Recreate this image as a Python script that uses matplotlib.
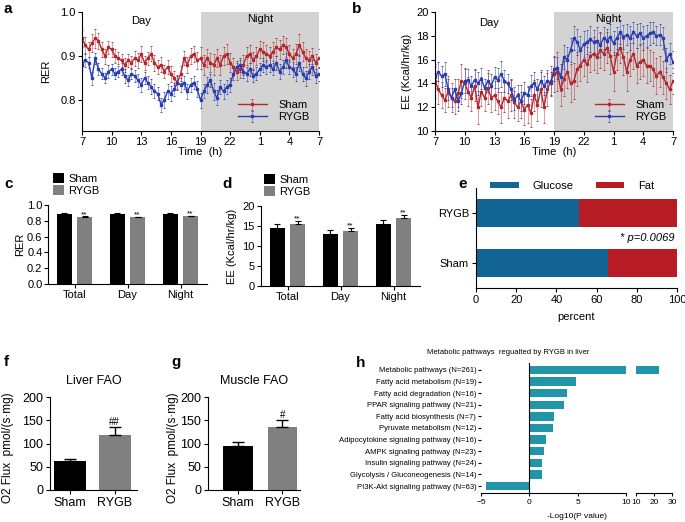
import numpy as np
import matplotlib
matplotlib.use("Agg")
import matplotlib.pyplot as plt

plt.rcParams['font.family'] = ['Liberation Sans', 'DejaVu Sans']
plt.rcParams['axes.linewidth'] = 0.8
plt.rcParams['xtick.major.width'] = 0.8
plt.rcParams['ytick.major.width'] = 0.8
plt.rcParams['xtick.major.size'] = 3
plt.rcParams['ytick.major.size'] = 3

#-------- data --------------
# time course, one value every 20 min from 7:00 to 7:00 next day
rer_sham = [
    0.940, 0.925, 0.915,
    0.930, 0.940, 0.935,
    0.915, 0.900, 0.920,
    0.915, 0.900, 0.895,
    0.890, 0.880, 0.890,
    0.885, 0.895, 0.890,
    0.905, 0.885, 0.895,
    0.905, 0.885, 0.875,
    0.880, 0.865, 0.875,
    0.860, 0.850, 0.840,
    0.860, 0.895, 0.880,
    0.900, 0.905, 0.890,
    0.895, 0.880, 0.895,
    0.885, 0.880, 0.895,
    0.880, 0.900, 0.905,
    0.885, 0.875, 0.865,
    0.870, 0.880, 0.900,
    0.905, 0.890, 0.900,
    0.915, 0.910, 0.905,
    0.900, 0.910, 0.920,
    0.915, 0.925, 0.920,
    0.905, 0.895, 0.905,
    0.925, 0.910, 0.895,
    0.890, 0.900, 0.885,
    0.895]
rer_sham_err = [
    0.020, 0.018, 0.016,
    0.020, 0.022, 0.018,
    0.016, 0.017, 0.015,
    0.016, 0.015, 0.014,
    0.015, 0.016, 0.014,
    0.015, 0.017, 0.016,
    0.018, 0.016, 0.015,
    0.017, 0.018, 0.016,
    0.017, 0.015, 0.016,
    0.018, 0.016, 0.015,
    0.017, 0.016, 0.018,
    0.019, 0.018, 0.020,
    0.025, 0.022, 0.020,
    0.021, 0.024, 0.020,
    0.022, 0.020, 0.023,
    0.021, 0.020, 0.019,
    0.020, 0.022, 0.021,
    0.020, 0.019, 0.021,
    0.020, 0.022, 0.019,
    0.020, 0.021, 0.020,
    0.022, 0.020, 0.021,
    0.019, 0.020, 0.022,
    0.024, 0.021, 0.020,
    0.021, 0.019, 0.020,
    0.022]
rer_rygb = [
    0.880, 0.890, 0.885,
    0.850, 0.895, 0.870,
    0.860, 0.850, 0.865,
    0.870, 0.860, 0.865,
    0.870, 0.855, 0.845,
    0.860, 0.855, 0.845,
    0.835, 0.850, 0.840,
    0.830, 0.820, 0.815,
    0.790, 0.800, 0.820,
    0.815, 0.825, 0.840,
    0.835, 0.840, 0.820,
    0.835, 0.840, 0.825,
    0.800, 0.820, 0.835,
    0.845, 0.820, 0.805,
    0.830, 0.820, 0.830,
    0.835, 0.860, 0.875,
    0.880, 0.865, 0.860,
    0.870, 0.855, 0.860,
    0.870, 0.880, 0.875,
    0.880, 0.870, 0.885,
    0.865, 0.875, 0.890,
    0.875, 0.870, 0.860,
    0.885, 0.860, 0.850,
    0.865, 0.875, 0.855,
    0.860]
rer_rygb_err = [
    0.012, 0.014, 0.013,
    0.015, 0.013, 0.014,
    0.013, 0.012, 0.014,
    0.013, 0.012, 0.013,
    0.014, 0.015, 0.013,
    0.012, 0.014, 0.015,
    0.016, 0.014, 0.015,
    0.017, 0.016, 0.015,
    0.016, 0.018, 0.017,
    0.016, 0.015, 0.017,
    0.016, 0.015, 0.017,
    0.016, 0.015, 0.018,
    0.017, 0.016, 0.018,
    0.015, 0.019, 0.017,
    0.016, 0.017, 0.015,
    0.016, 0.015, 0.014,
    0.015, 0.014, 0.016,
    0.015, 0.014, 0.015,
    0.014, 0.015, 0.016,
    0.015, 0.014, 0.016,
    0.017, 0.015, 0.016,
    0.015, 0.017, 0.016,
    0.018, 0.016, 0.017,
    0.016, 0.017, 0.015,
    0.016]

ee_sham = [
    14.2, 13.5, 13.0,
    12.6, 13.3, 12.8,
    12.5, 13.2, 14.2,
    14.0, 13.3, 12.8,
    13.8, 12.0, 13.3,
    12.8, 13.6, 12.8,
    13.0, 12.5, 12.0,
    12.8, 12.5, 13.0,
    12.4, 12.0, 12.5,
    11.8, 12.2, 11.5,
    13.0, 12.2, 13.5,
    12.0, 13.5, 14.2,
    14.8, 15.0, 13.5,
    14.4, 15.0, 14.0,
    14.2, 15.2, 15.5,
    16.0, 15.6, 16.3,
    16.5, 16.2, 16.8,
    16.5, 17.0, 16.3,
    15.0, 16.5, 17.0,
    16.2, 15.0, 16.0,
    16.5, 15.5, 15.8,
    16.0, 15.5, 15.5,
    15.2, 14.6, 15.0,
    14.5, 14.0, 13.5,
    14.2]
ee_sham_err = [
    1.4, 1.2, 1.1,
    1.0, 1.3, 1.2,
    1.1, 1.2, 1.4,
    1.3, 1.2, 1.1,
    1.3, 1.4, 1.2,
    1.1, 1.3, 1.2,
    1.2, 1.1, 1.3,
    1.2, 1.4, 1.3,
    1.3, 1.2, 1.4,
    1.3, 1.5, 1.2,
    1.3, 1.4, 1.5,
    1.3, 1.4, 1.3,
    1.5, 1.6, 1.4,
    1.5, 1.4, 1.6,
    1.5, 1.4, 1.3,
    1.4, 1.5, 1.3,
    1.4, 1.3, 1.5,
    1.4, 1.3, 1.5,
    1.6, 1.4, 1.3,
    1.5, 1.6, 1.4,
    1.3, 1.5, 1.4,
    1.4, 1.5, 1.3,
    1.4, 1.5, 1.3,
    1.4, 1.3, 1.2,
    1.1]
ee_rygb = [
    14.5, 15.0, 14.6,
    14.8, 13.5, 12.8,
    13.5, 12.5, 13.2,
    14.2, 14.3, 13.8,
    14.3, 14.0, 14.4,
    13.6, 14.2, 13.8,
    14.5, 14.3, 14.8,
    14.2, 14.0, 13.5,
    12.6, 13.0, 12.5,
    13.2, 13.0, 13.8,
    14.0, 13.5, 14.2,
    13.8, 14.2, 14.0,
    15.2, 15.3, 14.5,
    16.2, 16.0, 16.8,
    17.8, 17.5, 16.8,
    17.3, 17.5, 17.7,
    17.5, 17.6, 17.2,
    17.8, 17.6, 17.9,
    17.4, 17.8, 18.3,
    17.9, 18.1, 17.8,
    18.3, 18.0, 18.2,
    17.8, 18.0, 18.2,
    18.3, 18.0, 18.1,
    17.8, 16.0, 16.5,
    15.8]
ee_rygb_err = [
    0.9, 0.8, 0.9,
    1.0, 0.9, 0.8,
    0.9, 0.8, 0.9,
    1.0, 0.9, 0.8,
    0.9, 1.0, 0.9,
    0.8, 0.9, 1.0,
    0.9, 1.0, 1.1,
    0.9, 0.8, 0.9,
    0.8, 0.9, 0.8,
    0.9, 0.8, 0.9,
    1.0, 0.9, 0.9,
    0.8, 0.9, 1.0,
    1.0, 0.9, 1.1,
    1.0, 1.1, 1.0,
    1.0, 1.1, 1.2,
    1.1, 1.0, 1.1,
    1.0, 1.1, 1.0,
    0.9, 1.0, 1.1,
    1.0, 0.9, 1.0,
    1.0, 0.9, 1.0,
    0.9, 1.0, 0.9,
    1.0, 0.9, 1.0,
    0.9, 0.8, 0.9,
    0.9, 1.0, 0.9,
    0.9]

time_ticks = [7, 10, 13, 16, 19, 22, 25, 28, 31]
time_labels = ['7', '10', '13', '16', '19', '22', '1', '4', '7']

periods = ['Total', 'Day', 'Night']
rer_bar_sham = [0.89, 0.89, 0.89]
rer_bar_sham_err = [0.008, 0.008, 0.008]
rer_bar_rygb = [0.85, 0.845, 0.855]
rer_bar_rygb_err = [0.008, 0.007, 0.008]
ee_bar_sham = [14.4, 13.0, 15.5]
ee_bar_sham_err = [1.0, 0.9, 1.0]
ee_bar_rygb = [15.5, 13.8, 17.1]
ee_bar_rygb_err = [0.7, 0.6, 0.7]

fuel_groups = ['Sham', 'RYGB']
glucose_pct = [65.5, 51.0]
fat_pct = [34.5, 49.0]

fao_groups = ['Sham', 'RYGB']
liver_fao = [63, 119]
liver_fao_err = [4, 16]
muscle_fao = [95, 136]
muscle_fao_err = [9, 14]

pathways = [
    'Metabolic pathways (N=261)',
    'Fatty acid metabolism (N=19)',
    'Fatty acid degradation (N=16)',
    'PPAR signaling pathway (N=21)',
    'Fatty acid biosynthesis (N=7)',
    'Pyruvate metabolism (N=12)',
    'Adipocytokine signaling pathway (N=16)',
    'AMPK signaling pathway (N=23)',
    'Insulin signaling pathway (N=24)',
    'Glycolysis / Gluconeogenesis (N=14)',
    'PI3K-Akt signaling pathway (N=63)',
]
log_p = [23.0, 4.8, 3.85, 3.55, 2.55, 2.4, 1.7, 1.5, 1.35, 1.3, -4.5]

#-------- layout helpers --------------
W, H = 685, 522
fig = plt.figure(figsize=(W / 100, H / 100), dpi=100)


def px_axes(x0, y0, x1, y1):
    return fig.add_axes([x0 / W, 1 - y1 / H, (x1 - x0) / W, (y1 - y0) / H])


def px_text(x, y, s, **kw):
    fig.text(x / W, 1 - y / H, s, **kw)


def clean(ax):
    ax.spines['top'].set_visible(False)
    ax.spines['right'].set_visible(False)


red = '#b3282d'
blue = '#2a3db0'
t = 7 + np.arange(len(rer_sham)) / 3

#-------- a: RER time course --------------
ax = px_axes(82, 12, 319, 131)
ax.axvspan(19, 31, color='#d3d3d3', lw=0, zorder=0)
ax.errorbar(t, rer_sham, yerr=rer_sham_err, color=red, ecolor=red, elinewidth=0.7,
            capsize=1, capthick=0.6, lw=1.0, marker='s', ms=1.5, label='Sham')
ax.errorbar(t, rer_rygb, yerr=rer_rygb_err, color=blue, ecolor=blue, elinewidth=0.7,
            capsize=1, capthick=0.6, lw=1.0, marker='s', ms=1.5, label='RYGB')
for c in ax.containers:
    for ln in c.lines[2]:
        ln.set_alpha(0.45)
ax.set_xlim(7, 31)
ax.set_ylim(0.73, 1.0)
ax.set_yticks([0.8, 0.9, 1.0])
ax.set_xticks(time_ticks)
ax.set_xticklabels(time_labels)
ax.tick_params(labelsize=8, pad=1.5)
ax.set_xlabel('Time  (h)', fontsize=8, labelpad=0)
ax.set_ylabel('RER', fontsize=8)
ax.yaxis.set_label_coords((51 - 82) / 237, 0.5)
clean(ax)
ax.text(13, 0.98, 'Day', fontsize=8, ha='center', va='center')
ax.text(25, 0.985, 'Night', fontsize=8, ha='center', va='center')
ax.legend(loc='upper left', bbox_to_anchor=((238 - 82) / 237, (131 - 100) / 119),
          frameon=False, fontsize=8, handlelength=2.6, borderpad=0, borderaxespad=0,
          labelspacing=0.2, handletextpad=1.0)

#-------- b: EE time course --------------
ax = px_axes(435, 12, 673, 131)
ax.axvspan(19, 31, color='#d3d3d3', lw=0, zorder=0)
ax.errorbar(t, ee_sham, yerr=ee_sham_err, color=red, ecolor=red, elinewidth=0.7,
            capsize=1, capthick=0.6, lw=1.0, marker='s', ms=1.5, label='Sham')
ax.errorbar(t, ee_rygb, yerr=ee_rygb_err, color=blue, ecolor=blue, elinewidth=0.7,
            capsize=1, capthick=0.6, lw=1.0, marker='s', ms=1.5, label='RYGB')
for c in ax.containers:
    for ln in c.lines[2]:
        ln.set_alpha(0.45)
ax.set_xlim(7, 31)
ax.set_ylim(10, 20)
ax.set_yticks(range(10, 21, 2))
ax.set_xticks(time_ticks)
ax.set_xticklabels(time_labels)
ax.tick_params(labelsize=8, pad=1.5)
ax.set_xlabel('Time  (h)', fontsize=8, labelpad=0)
ax.set_ylabel('EE (Kcal/hr/kg)', fontsize=8)
ax.yaxis.set_label_coords((412 - 435) / 238, 0.5)
clean(ax)
ax.text(12.5, 19.1, 'Day', fontsize=8, ha='center', va='center')
ax.text(24.5, 19.4, 'Night', fontsize=8, ha='center', va='center')
ax.legend(loc='upper left', bbox_to_anchor=((595 - 435) / 238, (131 - 100) / 119),
          frameon=False, fontsize=8, handlelength=2.6, borderpad=0, borderaxespad=0,
          labelspacing=0.2, handletextpad=1.0)

#-------- c / d: bar summaries --------------
xs = np.arange(len(periods))


def bar_pair(ax, sham, sham_err, rygb, rygb_err, star_pad):
    ax.bar(xs - 0.19, sham, 0.27, color='black', label='Sham',
           yerr=[np.zeros(len(sham)), sham_err], capsize=2,
           error_kw=dict(lw=0.8, capthick=0.8))
    ax.bar(xs + 0.19, rygb, 0.27, color='#808080', label='RYGB',
           yerr=[np.zeros(len(rygb)), rygb_err], capsize=2,
           error_kw=dict(lw=0.8, capthick=0.8))
    for x, v, e in zip(xs, rygb, rygb_err):
        ax.text(x + 0.19, v + e + star_pad, '**', fontsize=6, ha='center', va='center')
    ax.set_xlim(-0.5, 2.5)
    ax.set_xticks(xs)
    ax.set_xticklabels(periods)
    ax.tick_params(labelsize=8, pad=1.5)
    clean(ax)


ax = px_axes(48, 205, 207, 284)
bar_pair(ax, rer_bar_sham, rer_bar_sham_err, rer_bar_rygb, rer_bar_rygb_err, 0.02)
ax.set_ylim(0, 1.0)
ax.set_yticks(np.arange(0, 1.01, 0.2))
ax.tick_params(axis='y', pad=1)
ax.set_ylabel('RER', fontsize=8)
ax.yaxis.set_label_coords((25 - 48) / 159, 0.5)
ax.legend(loc='upper left', bbox_to_anchor=((53 - 48) / 159, (284 - 173) / 79),
          frameon=False, fontsize=8, handlelength=1.0, handleheight=1.0,
          borderpad=0, borderaxespad=0, labelspacing=0.1, handletextpad=0.4)

ax = px_axes(261, 206, 420, 286)
bar_pair(ax, ee_bar_sham, ee_bar_sham_err, ee_bar_rygb, ee_bar_rygb_err, 0.6)
ax.set_ylim(0, 20)
ax.set_yticks(range(0, 21, 5))
ax.set_ylabel('EE (Kcal/hr/kg)', fontsize=8)
ax.yaxis.set_label_coords((237 - 261) / 159, 0.5)
ax.legend(loc='upper left', bbox_to_anchor=((264 - 261) / 159, (286 - 174) / 80),
          frameon=False, fontsize=8, handlelength=1.0, handleheight=1.0,
          borderpad=0, borderaxespad=0, labelspacing=0.1, handletextpad=0.4)

#-------- e: fuel use --------------
ax = px_axes(476, 188, 677, 288)
ypos = np.arange(len(fuel_groups))
ax.barh(ypos, glucose_pct, 0.56, color='#136596', label='Glucose')
ax.barh(ypos, fat_pct, 0.56, left=glucose_pct, color='#b71c25', label='Fat')
ax.set_ylim(-0.5, 1.5)
ax.set_xlim(0, 100)
ax.set_yticks(ypos)
ax.set_yticklabels(fuel_groups)
ax.set_xticks(range(0, 101, 20))
ax.tick_params(labelsize=8, pad=2)
ax.set_xlabel('percent', fontsize=8, labelpad=5)
clean(ax)
ax.text(99, 0.5, '* p=0.0069', fontsize=8, style='italic', ha='right', va='center')
ax.legend(loc='center', bbox_to_anchor=((572 - 476) / 201, 1.02), ncol=2,
          frameon=False, fontsize=8, handlelength=2.6, handleheight=0.5,
          borderpad=0, borderaxespad=0, columnspacing=2.0, handletextpad=1.2)

#-------- f / g: FAO --------------
def fao_panel(ax, vals, errs, mark, title, xlim, width):
    xp = np.arange(len(fao_groups))
    ax.bar(xp, vals, width, color=['black', '#808080'],
           yerr=[np.zeros(len(vals)), errs], capsize=4,
           error_kw=dict(lw=1.0, capthick=1.0))
    ax.text(xp[1], vals[1] + errs[1] + 12, mark, fontsize=7, ha='center', va='center')
    ax.set_xlim(*xlim)
    ax.set_ylim(0, 200)
    ax.set_yticks(range(0, 201, 50))
    ax.set_xticks(xp)
    ax.set_xticklabels(fao_groups)
    ax.tick_params(labelsize=9, pad=2)
    ax.set_title(title, fontsize=9, pad=9)
    ax.set_ylabel('O2 Flux  pmol/(s·mg)', fontsize=8.5)
    clean(ax)


ax = px_axes(50, 397, 137, 490)
fao_panel(ax, liver_fao, liver_fao_err, '##', 'Liver FAO', (-0.45, 1.5), 0.72)
ax.yaxis.set_label_coords((14 - 50) / 87, 0.45)

ax = px_axes(208, 397, 300, 490)
fao_panel(ax, muscle_fao, muscle_fao_err, '#', 'Muscle FAO', (-0.68, 1.4), 0.66)
ax.yaxis.set_label_coords((179 - 208) / 92, 0.45)

#-------- h: KEGG pathways, broken axis --------------
teal = '#2295a8'
hpos = np.arange(len(pathways))
ax1 = px_axes(481, 363, 626, 493)
ax2 = px_axes(636, 363, 672, 493)
for a_ in (ax1, ax2):
    a_.barh(hpos, log_p, 0.72, color=teal)
    a_.set_ylim(len(pathways) - 0.4, -0.6)
    a_.spines['top'].set_visible(False)
    a_.spines['right'].set_visible(False)
    a_.spines['left'].set_visible(False)
    a_.tick_params(labelsize=6, pad=1.5, length=2.5)
ax1.axvline(0, color='black', lw=0.8)
ax1.set_xlim(-5, 10)
ax1.set_xticks([-5, 0, 5, 10])
ax1.set_yticks(hpos)
ax1.set_yticklabels(pathways, fontsize=5.5)
ax1.tick_params(axis='y', length=2.5, pad=1)
ax2.set_xlim(10, 30)
ax2.set_xticks([10, 20, 30])
ax2.set_yticks([])
px_text(508, 352, 'Metabolic pathways  regualted by RYGB in liver', fontsize=5.5,
        ha='center', va='center')
px_text(577, 516, '-Log10(P value)', fontsize=6, ha='center', va='center')

#-------- panel letters --------------
for letter, x, y in [('a', 4, 9), ('b', 352, 9), ('c', 4, 184), ('d', 222, 184),
                     ('e', 458, 184), ('f', 4, 362), ('g', 171, 362), ('h', 356, 363)]:
    px_text(x, y, letter, fontsize=11, fontweight='bold', ha='left', va='center')

fig.savefig('out.png', dpi=100)
